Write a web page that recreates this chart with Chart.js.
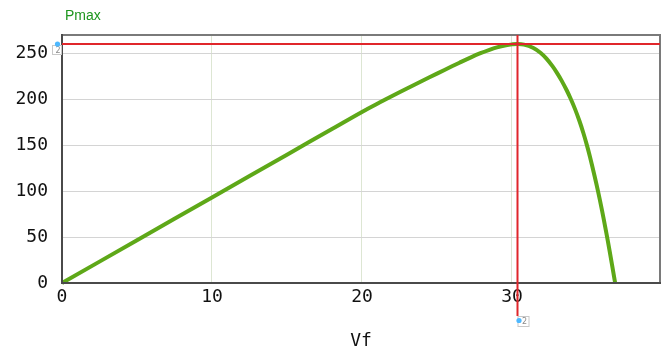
<!DOCTYPE html>
<html>
<head>
<meta charset="utf-8">
<script src="https://cdn.jsdelivr.net/npm/chart.js@4/dist/chart.umd.min.js"></script>
<style>
  html, body { margin: 0; padding: 0; background: #ffffff; }
  #wrap { width: 663px; height: 349px; }
</style>
</head>
<body>
<div id="wrap"><canvas id="c" width="663" height="349"></canvas></div>
<script>
// ---- data ----
const voltage = [0, 5, 10, 15, 18, 20, 21.2, 22.5, 23.5, 24.5, 25.5, 26.5, 27.3, 27.9, 28.5, 29.0, 29.6, 30.0, 30.35, 30.8, 31.4, 31.9, 32.3, 32.7, 33.0, 33.3, 33.64, 33.9, 34.2, 34.5, 34.75, 35.0, 35.2, 35.5, 35.75, 36.0, 36.2, 36.4, 36.6, 36.75, 36.88];
const power   = [0, 46.5, 93, 139.5, 167.4, 186, 196.4, 207.3, 215.5, 223.6, 231.6, 239.5, 245.6, 249.8, 253.5, 256.1, 258.4, 259.4, 259.8, 259.1, 255.7, 250.3, 243.9, 235.7, 228.5, 220.3, 209.8, 200.8, 189.3, 176.1, 163.6, 149.6, 137.2, 116.8, 98.8, 79.3, 62.5, 44.9, 26.5, 12.4, 0];
const xTickValues = [0, 10, 20, 30];
const yTickValues = [0, 50, 100, 150, 200, 250];
const vmp = 30.35;
const pmax = 259.8;
const topLabel = 'Pmax';
const xTitle = 'Vf';
const cursorTag = '2';

const points = voltage.map((v, i) => ({ x: v, y: power[i] }));

const overlay = {
  id: 'overlay',
  afterDatasetsDraw(chart) {
    const ctx = chart.ctx;
    const a = chart.chartArea;
    const xs = chart.scales.x, ys = chart.scales.y;
    const xp = Math.round(xs.getPixelForValue(vmp)) + 0.5;
    const yp = Math.round(ys.getPixelForValue(pmax));
    ctx.save();
    // frame
    ctx.lineWidth = 2;
    ctx.strokeStyle = '#7a7a7a';
    ctx.beginPath();
    ctx.moveTo(a.left, a.top); ctx.lineTo(a.right, a.top); ctx.lineTo(a.right, a.bottom);
    ctx.stroke();
    ctx.strokeStyle = '#4a4a4a';
    ctx.beginPath();
    ctx.moveTo(a.left, a.top - 1); ctx.lineTo(a.left, a.bottom); ctx.lineTo(a.right + 1, a.bottom);
    ctx.stroke();
    // red cursor lines
    ctx.strokeStyle = '#e0262b';
    ctx.lineWidth = 2;
    ctx.beginPath();
    ctx.moveTo(a.left, yp); ctx.lineTo(a.right, yp);
    ctx.moveTo(xp, a.top); ctx.lineTo(xp, a.bottom + 33);
    ctx.stroke();
    // small cursor tags
    function tag(bx, by, w, h, dx, dy) {
      ctx.fillStyle = '#ffffff';
      ctx.fillRect(bx, by, w, h);
      ctx.strokeStyle = '#c8c8c8';
      ctx.lineWidth = 1;
      ctx.strokeRect(bx + 0.5, by + 0.5, w - 1, h - 1);
      ctx.fillStyle = '#8a8a8a';
      ctx.font = '8px "DejaVu Sans"';
      ctx.textAlign = 'center';
      ctx.textBaseline = 'middle';
      ctx.fillText(cursorTag, bx + w / 2 + 1, by + h / 2 + 0.5);
      ctx.fillStyle = '#4db8ff';
      ctx.beginPath();
      ctx.arc(dx, dy, 2.6, 0, Math.PI * 2);
      ctx.fill();
    }
    tag(a.left - 10, yp + 1, 10, 10, a.left - 4.5, yp);
    tag(xp, a.bottom + 33, 12, 11, xp + 1.5, a.bottom + 37.5);
    // top label
    ctx.fillStyle = '#1e961e';
    ctx.font = '14px "Liberation Sans", Arial, sans-serif';
    ctx.textAlign = 'left';
    ctx.textBaseline = 'alphabetic';
    ctx.fillText(topLabel, 65, 20);
    ctx.restore();
  }
};

new Chart(document.getElementById('c'), {
  type: 'scatter',
  data: {
    datasets: [{
      data: points,
      showLine: true,
      borderColor: '#5ea818',
      backgroundColor: '#5ea818',
      borderWidth: 4,
      pointRadius: 0,
      pointHoverRadius: 0,
      tension: 0.4,
      fill: false,
      clip: false
    }]
  },
  options: {
    responsive: false,
    animation: false,
    events: [],
    layout: { padding: { top: 35, right: 3, left: 0, bottom: 0 } },
    plugins: { legend: { display: false }, tooltip: { enabled: false }, title: { display: false } },
    scales: {
      x: {
        type: 'linear',
        min: 0,
        max: 39.87,
        afterFit(s) { s.height = 66; },
        afterBuildTicks(s) { s.ticks = xTickValues.map(v => ({ value: v })); },
        border: { display: false },
        grid: { color: '#dde6d3', lineWidth: 1, drawTicks: false },
        ticks: {
          padding: 4,
          color: '#111111',
          font: { family: '"DejaVu Sans Mono", monospace', size: 18 },
          maxRotation: 0
        },
        title: {
          display: true,
          text: xTitle,
          color: '#111111',
          font: { family: '"DejaVu Sans Mono", monospace', size: 18 },
          padding: { top: 0, bottom: -3 }
        }
      },
      y: {
        type: 'linear',
        min: 0,
        max: 269.6,
        afterFit(s) { s.width = 62; },
        afterBuildTicks(s) { s.ticks = yTickValues.map(v => ({ value: v })); },
        border: { display: false },
        grid: { color: '#d4d4d4', lineWidth: 1, drawTicks: false },
        ticks: {
          padding: 14,
          color: '#111111',
          font: { family: '"DejaVu Sans Mono", monospace', size: 18 }
        }
      }
    }
  },
  plugins: [overlay]
});
</script>
</body>
</html>
